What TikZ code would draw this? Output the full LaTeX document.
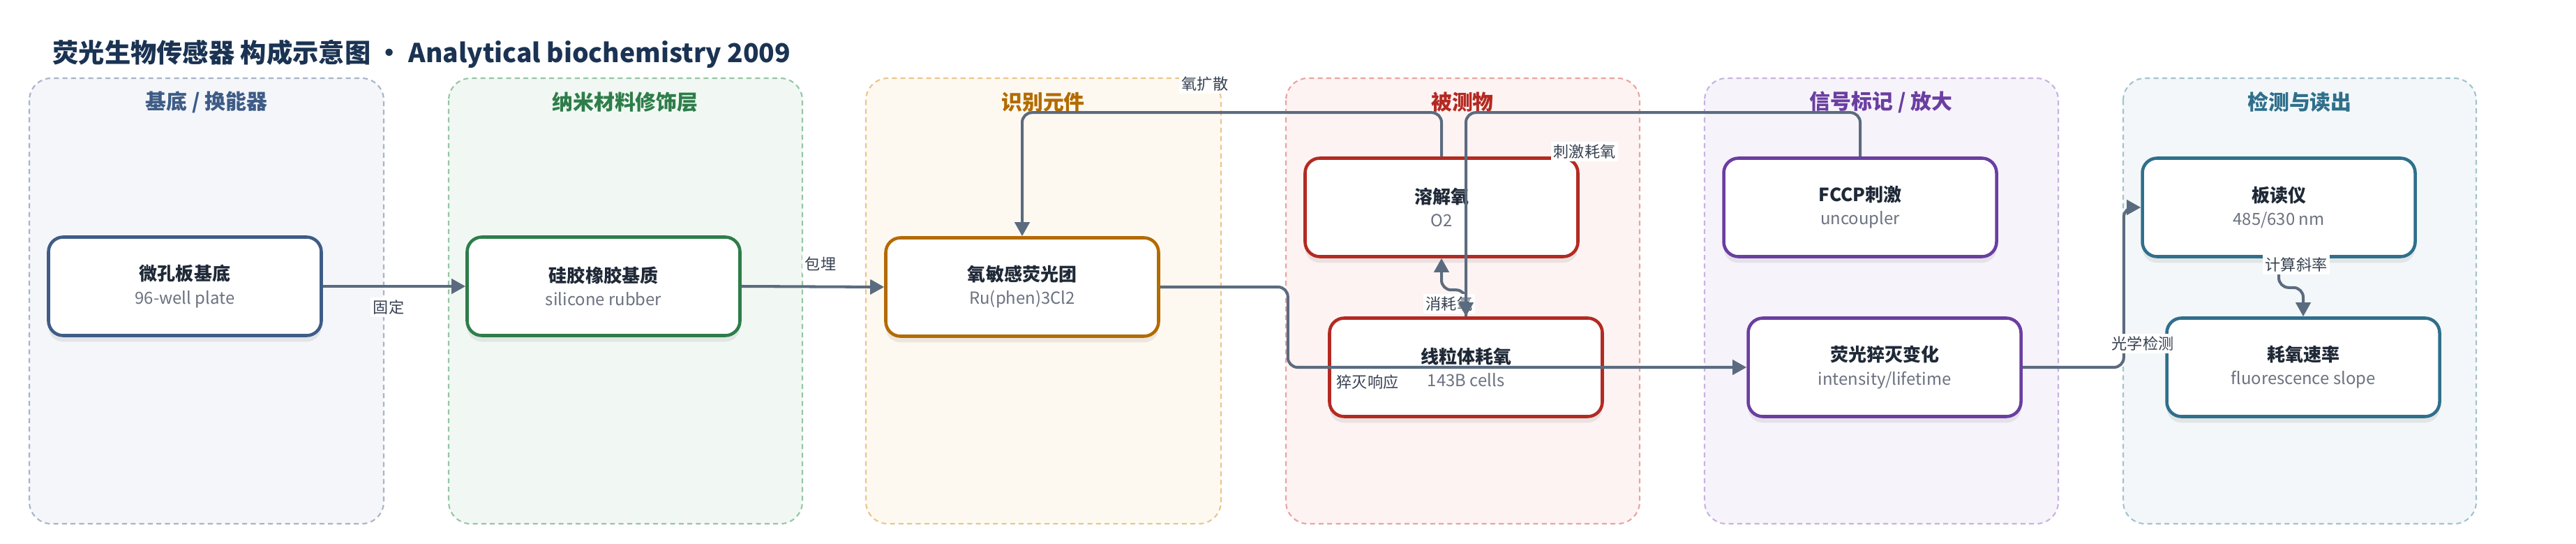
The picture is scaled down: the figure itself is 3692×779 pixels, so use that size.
\documentclass[tikz,border=0pt]{standalone}
\usepackage{fontspec}
\setmainfont{Noto Sans CJK SC}
\usetikzlibrary{arrows.meta,shadows}

\definecolor{titleblue}{HTML}{1B3353}
\definecolor{headgrey}{HTML}{1F2937}
\definecolor{subgrey}{HTML}{6B7280}
\definecolor{tagtext}{HTML}{374151}
\definecolor{edgegrey}{HTML}{5B6B7F}
\definecolor{baseblue}{HTML}{3E5C86}
\definecolor{basefill}{HTML}{F4F6FA}
\definecolor{baseline}{HTML}{A7B4C8}
\definecolor{nanogreen}{HTML}{2E7D4A}
\definecolor{nanofill}{HTML}{F1F8F3}
\definecolor{nanoline}{HTML}{95C6A4}
\definecolor{recogorange}{HTML}{B36B00}
\definecolor{recogfill}{HTML}{FEF9F0}
\definecolor{recogline}{HTML}{EAC58E}
\definecolor{analytered}{HTML}{B42A22}
\definecolor{analytefill}{HTML}{FDF3F2}
\definecolor{analyteline}{HTML}{E8A4A0}
\definecolor{signalpurple}{HTML}{6A3EA1}
\definecolor{signalfill}{HTML}{F7F3FB}
\definecolor{signalline}{HTML}{C7B3E0}
\definecolor{readteal}{HTML}{2F6F8C}
\definecolor{readfill}{HTML}{F3F7F9}
\definecolor{readline}{HTML}{A2C3D0}

\newcommand{\stagetext}[2]{{\fontsize{7.4}{9.4}\selectfont\bfseries\color{headgrey}#1}\\{\fontsize{6.8}{9.4}\selectfont\color{subgrey}#2}}

\begin{document}
\begin{tikzpicture}[x=0.1mm,y=-0.1mm,
    lane/.style 2 args={draw=#1, fill=#2, line width=0.6pt, dash pattern=on 2pt off 1.5pt, rounded corners=9pt},
    lanetitle/.style={font=\fontsize{8.5}{10}\selectfont\bfseries, text=#1, inner sep=0pt},
    stage/.style={draw=#1, fill=white, line width=1.3pt, rounded corners=6pt, minimum width=39.1mm, minimum height=14.1mm, inner sep=0pt, align=center, font=\fontsize{7}{9.4}\selectfont, drop shadow={shadow xshift=0pt, shadow yshift=-2.5pt, opacity=0.15}},
    flow/.style={draw=edgegrey, line width=1.15pt, rounded corners=4pt, -{Triangle[length=5.7pt,width=6pt]}},
    tag/.style={fill=white, inner sep=1pt, text=tagtext, font=\fontsize{6.3}{7.5}\selectfont}]
    \useasboundingbox (0,0) rectangle (3692,779);

    \node[anchor=west, inner sep=0pt, text=titleblue, font=\fontsize{10.6}{13}\selectfont\bfseries] (title) at (75,77) {荧光生物传感器 构成示意图 · Analytical biochemistry 2009};

    \draw[lane={baseline}{basefill}] (42,112) rectangle (550,750);
    \draw[lane={nanoline}{nanofill}] (643,112) rectangle (1150,750);
    \draw[lane={recogline}{recogfill}] (1241,112) rectangle (1750,750);
    \draw[lane={analyteline}{analytefill}] (1843,112) rectangle (2350,750);
    \draw[lane={signalline}{signalfill}] (2443,112) rectangle (2950,750);
    \draw[lane={readline}{readfill}] (3043,112) rectangle (3549,750);

    \node[lanetitle=baseblue] (t1) at (296,146) {基底 / 换能器};
    \node[lanetitle=nanogreen] (t2) at (896,146) {纳米材料修饰层};
    \node[lanetitle=recogorange] (t3) at (1495,146) {识别元件};
    \node[lanetitle=analytered] (t4) at (2096,146) {被测物};
    \node[lanetitle=signalpurple] (t5) at (2696,146) {信号标记 / 放大};
    \node[lanetitle=readteal] (t6) at (3296,146) {检测与读出};

    \node[stage=baseblue] (n1) at (265,410) {\stagetext{微孔板基底}{96-well plate}};
    \node[stage=nanogreen] (n2) at (865,410) {\stagetext{硅胶橡胶基质}{silicone rubber}};
    \node[stage=recogorange] (n3) at (1465,411) {\stagetext{氧敏感荧光团}{Ru(phen)3Cl2}};
    \node[stage=analytered] (n4) at (2066,297) {\stagetext{溶解氧}{O2}};
    \node[stage=analytered] (n5) at (2101,526) {\stagetext{线粒体耗氧}{143B cells}};
    \node[stage=signalpurple] (n6) at (2666,297) {\stagetext{FCCP刺激}{uncoupler}};
    \node[stage=signalpurple] (n7) at (2701,526) {\stagetext{荧光猝灭变化}{intensity/lifetime}};
    \node[stage=readteal] (n8) at (3266,297) {\stagetext{板读仪}{485/630 nm}};
    \node[stage=readteal] (n9) at (3301,526) {\stagetext{耗氧速率}{fluorescence slope}};

    \draw[flow] (n1.east) -- (n2.west);
    \draw[flow] (n2.east) -- (n3.west);
    \draw[flow] (n3.east) -- ++(183,0) |- (n7.west);
    \draw[flow] (n4.north) -- ++(0,-63) -| (n3.north);
    \draw[flow] (n5.north) -- ++(0,-38) -| (n4.south);
    \draw[flow] (n7.east) -- ++(145,0) |- (n8.west);
    \draw[flow] (n8.south) -- ++(0,42) -| (n9.north);

    \node[tag] (e1) at (557,440) {固定};
    \node[tag] (e2) at (1176,378) {包埋};
    \node[tag] (e3) at (1960,547) {猝灭响应};
    \node[tag] (e4) at (1727,120) {氧扩散};
    \node[tag] (e5) at (2271,217) {刺激耗氧};
    \node[tag] (e6) at (2077,435) {消耗氧};
    \node[tag] (e7) at (3071,492) {光学检测};
    \node[tag] (e8) at (3291,379) {计算斜率};

    \draw[flow] (n6.north) -- ++(0,-63) -| (n5.north);
\end{tikzpicture}
\end{document}
